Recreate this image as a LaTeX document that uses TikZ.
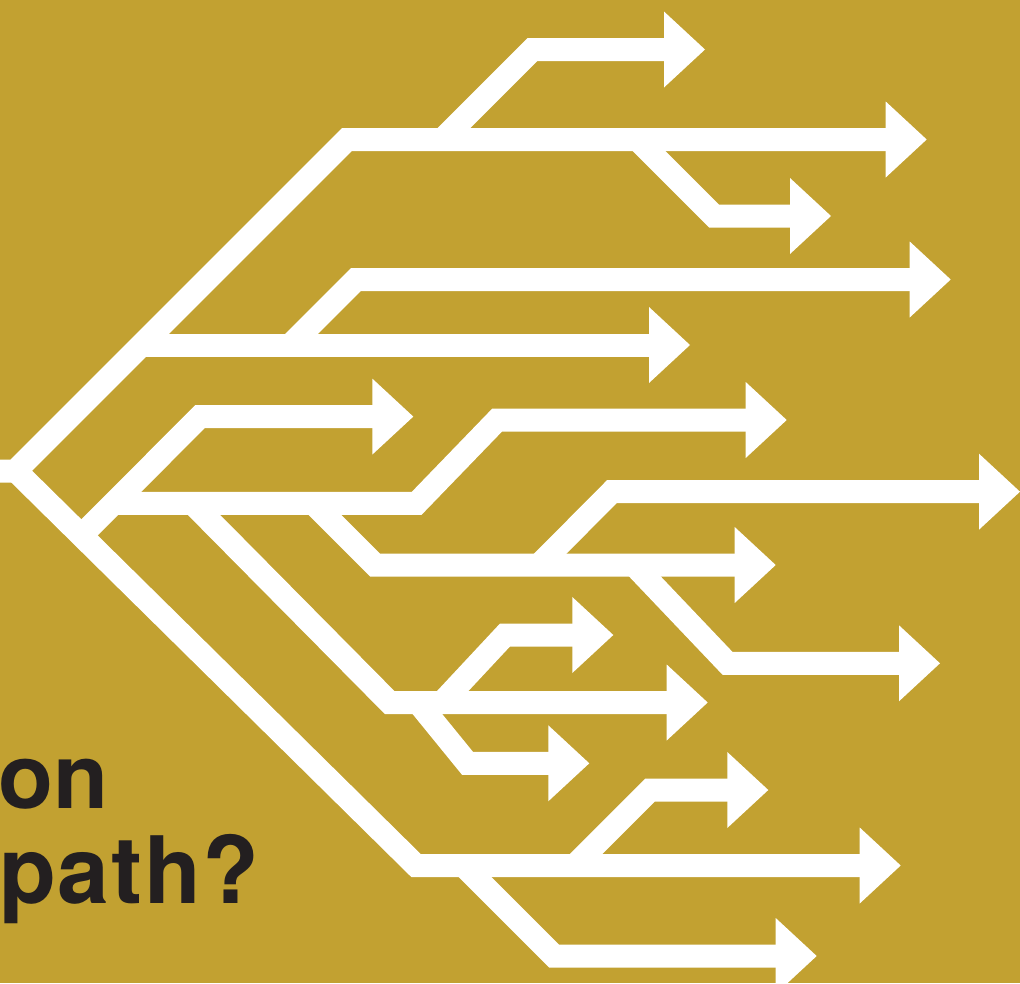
\documentclass[tikz,border=0pt]{standalone}
\usepackage{fontspec}
\setmainfont{TeX Gyre Heros}
\definecolor{gold}{HTML}{C2A131}
\definecolor{ink}{HTML}{231F20}
\tikzset{
  road/.style={draw=white, line width=23pt, line join=miter, line cap=butt, miter limit=10},
  arrhead/.pic={\fill[white] (0,0) -- (-41,-38) -- (-41,38) -- cycle;},
  label/.style={text=ink, font=\fontsize{93}{110}\selectfont\bfseries\addfontfeatures{LetterSpace=2}, inner sep=0pt},
  labeltight/.style={text=ink, font=\fontsize{90}{110}\selectfont\bfseries, inner sep=0pt}
}
\begin{document}
\begin{tikzpicture}[x=1pt,y=-1pt]
\useasboundingbox (0,0) rectangle (1020,983);
\clip (0,0) rectangle (1020,983);
\fill[gold] (0,0) rectangle (1020,983);

% upper trunk
\draw[road] (0,471) -- (15.5,471) -- (347,139.5) -- (888,139.5);
\pic at (926.7,139.5) {arrhead};
% top branch
\draw[road] (442.5,139.5) -- (532.5,49.5) -- (666,49.5);
\pic at (705,49.5) {arrhead};
% branch down from top line
\draw[road] (637.5,139.5) -- (714,216) -- (793,216);
\pic at (831,216) {arrhead};
% horizontal at 345
\draw[road] (141.5,345) -- (651,345);
\pic at (690,345) {arrhead};
% branch up from 345
\draw[road] (290.5,345) -- (356,279.5) -- (912,279.5);
\pic at (950.7,279.5) {arrhead};

% lower trunk
\draw[road] (16,471) -- (416,865.5) -- (862,865.5);
\pic at (900.7,865.5) {arrhead};
\draw[road] (574.5,865.5) -- (650,790) -- (729,790);
\pic at (768.3,790) {arrhead};
\draw[road] (463.5,865.5) -- (554,956) -- (778,956);
\pic at (816.7,956) {arrhead};

% branch from lower trunk
\draw[road] (81.5,535.5) -- (200,416.6) -- (374,416.6);
\pic at (413.3,416.6) {arrhead};
% horizontal at 503
\draw[road] (113.7,503.3) -- (416.7,503.3) -- (497.2,420) -- (748,420);
\pic at (786.7,420) {arrhead};
% diagonal down 1
\draw[road] (192.5,503.3) -- (389.6,702.5) -- (668.5,702.5);
\pic at (707.7,702.5) {arrhead};
\draw[road] (442,702.5) -- (505,635) -- (575,635);
\pic at (613.3,635) {arrhead};
\draw[road] (418,702.5) -- (467.5,763.3) -- (550,763.3);
\pic at (589.3,763.3) {arrhead};
% diagonal down 2
\draw[road] (313.3,503.3) -- (375,565) -- (737,565);
\pic at (775.7,565) {arrhead};
\draw[road] (539,565) -- (611.8,491.7) -- (983.5,491.7);
\pic at (1020,491.7) {arrhead};
\draw[road] (634,565) -- (727.5,663.3) -- (902,663.3);
\pic at (940,663.3) {arrhead};

% text
\node[labeltight, anchor=base west] (t1) at (-2,808) {on};
\node[label, anchor=base west] (t2) at (-1,903) {path?};
\end{tikzpicture}
\end{document}
